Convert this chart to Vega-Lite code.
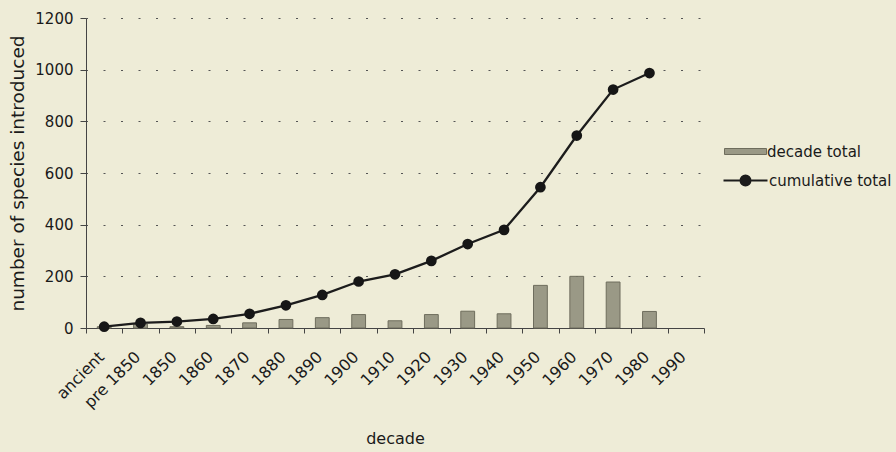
{
  "$schema": "https://vega.github.io/schema/vega-lite/v6.json",
  "width": 618,
  "height": 310,
  "autosize": {"type": "none"},
  "padding": {"left": 86, "top": 18, "right": 192, "bottom": 124},
  "background": "#eeecd7",
  "config": {
    "view": {"stroke": null},
    "font": "DejaVu Sans"
  },
  "data": {
    "values": [
      {"idx": 0, "decade": "ancient", "decade_total": 5, "cumulative": 5},
      {"idx": 1, "decade": "pre 1850", "decade_total": 15, "cumulative": 20},
      {"idx": 2, "decade": "1850", "decade_total": 5, "cumulative": 25},
      {"idx": 3, "decade": "1860", "decade_total": 10, "cumulative": 35},
      {"idx": 4, "decade": "1870", "decade_total": 20, "cumulative": 55},
      {"idx": 5, "decade": "1880", "decade_total": 33, "cumulative": 88},
      {"idx": 6, "decade": "1890", "decade_total": 40, "cumulative": 128},
      {"idx": 7, "decade": "1900", "decade_total": 52, "cumulative": 180},
      {"idx": 8, "decade": "1910", "decade_total": 28, "cumulative": 208},
      {"idx": 9, "decade": "1920", "decade_total": 52, "cumulative": 260},
      {"idx": 10, "decade": "1930", "decade_total": 65, "cumulative": 325},
      {"idx": 11, "decade": "1940", "decade_total": 55, "cumulative": 380},
      {"idx": 12, "decade": "1950", "decade_total": 165, "cumulative": 545},
      {"idx": 13, "decade": "1960", "decade_total": 200, "cumulative": 745},
      {"idx": 14, "decade": "1970", "decade_total": 178, "cumulative": 923},
      {"idx": 15, "decade": "1980", "decade_total": 64, "cumulative": 987}
    ]
  },
  "encoding": {
    "x": {
      "field": "decade",
      "type": "nominal",
      "sort": null,
      "scale": {
        "domain": ["ancient", "pre 1850", "1850", "1860", "1870", "1880", "1890", "1900", "1910", "1920", "1930", "1940", "1950", "1960", "1970", "1980", "1990"],
        "paddingInner": 0,
        "paddingOuter": 0
      },
      "axis": {
        "title": "decade",
        "labelAngle": -45,
        "labelAlign": "right",
        "labelBaseline": "middle",
        "labelPadding": 21,
        "labelOffset": -3,
        "labelFontSize": 16,
        "labelColor": "#1a1a1a",
        "tickBand": "extent",
        "tickSize": 5,
        "tickColor": "#444",
        "domainColor": "#444",
        "titleFontSize": 16,
        "titleFontWeight": "normal",
        "titleColor": "#1a1a1a",
        "titlePadding": 20
      }
    }
  },
  "layer": [
    {
      "mark": {"type": "bar", "width": {"band": 0.38}, "stroke": "#6e6d5d", "strokeWidth": 1},
      "encoding": {
        "y": {
          "field": "decade_total",
          "type": "quantitative",
          "title": "number of species introduced",
          "scale": {"domain": [0, 1200], "nice": false},
          "axis": {
            "values": [0, 200, 400, 600, 800, 1000, 1200],
            "format": "d",
            "grid": true,
            "gridDash": [2, 15.5],
            "gridDashOffset": 0.5,
            "gridColor": "#555",
            "gridWidth": 1,
            "domainColor": "#444",
            "tickColor": "#444",
            "tickSize": 6,
            "labelPadding": 7,
            "labelFontSize": 15,
            "labelColor": "#1a1a1a",
            "titleFontSize": 18.5,
            "titleFontWeight": "normal",
            "titleColor": "#1a1a1a",
            "titlePadding": 7
          }
        },
        "fill": {
          "datum": "decade total",
          "scale": {"range": ["#9a9986"]},
          "legend": {
            "orient": "none",
            "legendX": 652,
            "legendY": 126,
            "title": null,
            "padding": 0,
            "symbolType": "M-4.2,-0.6H4.2V0.6H-4.2Z",
            "symbolSize": 100,
            "symbolStrokeColor": "#6e6d5d",
            "symbolStrokeWidth": 1,
            "labelOffset": 14,
            "labelFontSize": 15,
            "labelColor": "#1a1a1a"
          }
        }
      }
    },
    {
      "mark": {"type": "line", "strokeWidth": 2.3},
      "encoding": {
        "y": {"field": "cumulative", "type": "quantitative", "title": "number of species introduced"},
        "order": {"field": "idx", "type": "quantitative"},
        "stroke": {
          "datum": "cumulative total",
          "scale": {"range": ["#1c1c1c"]},
          "legend": {
            "orient": "none",
            "legendX": 652,
            "legendY": 155,
            "title": null,
            "padding": 0,
            "symbolType": "M-4.4,0H4.4M-1,0A1,1 0 1,1 1,0A1,1 0 1,1 -1,0Z",
            "symbolSize": 100,
            "symbolStrokeWidth": 2,
            "labelOffset": 16,
            "labelFontSize": 15,
            "labelColor": "#1a1a1a",
            "encode": {"symbols": {"update": {"fill": {"value": "#1c1c1c"}}}}
          }
        }
      }
    },
    {
      "mark": {"type": "point", "filled": true, "size": 115, "color": "#161616", "opacity": 1},
      "encoding": {
        "y": {"field": "cumulative", "type": "quantitative", "title": "number of species introduced"}
      }
    }
  ]
}
